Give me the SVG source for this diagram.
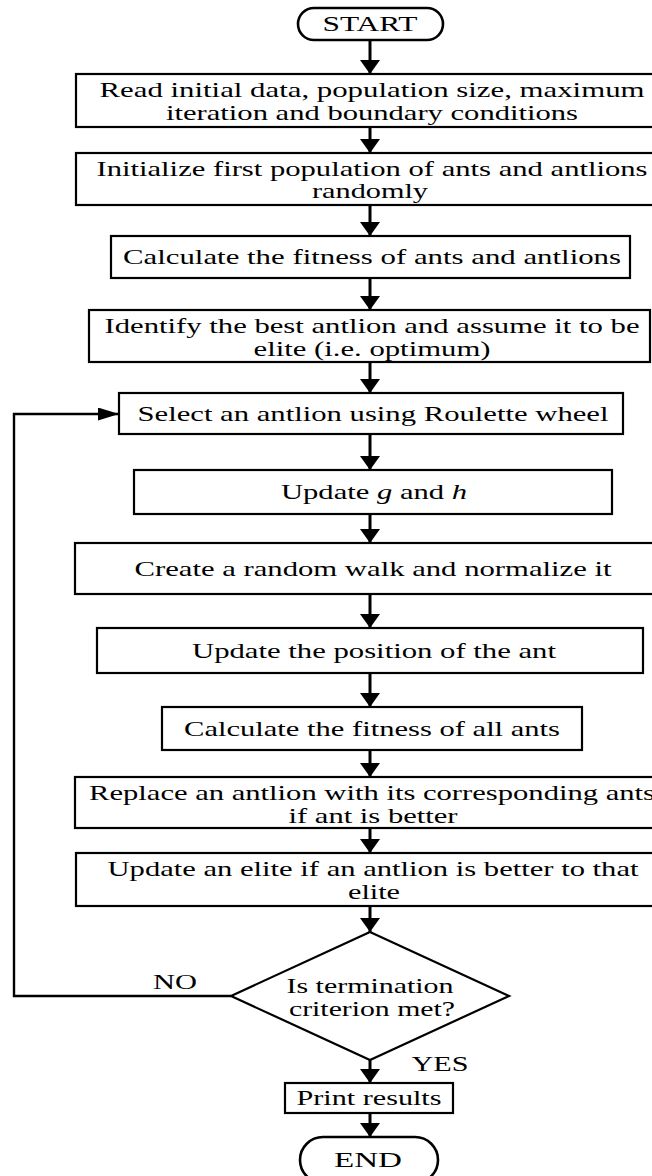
<svg xmlns="http://www.w3.org/2000/svg" width="652" height="1176" viewBox="0 0 652 1176">
  <style>
    .box{fill:#fff;stroke:#000;stroke-width:2.2}
    .term{fill:#fff;stroke:#000;stroke-width:2.6}
    .t{font-family:"Liberation Serif","Times New Roman",serif;font-size:21px;fill:#000;text-anchor:middle}
    .arr{stroke:#000;stroke-width:3;fill:none}
    .loop{stroke:#000;stroke-width:2.4;fill:none}
  </style>
  <defs>
    <marker id="ah" markerUnits="userSpaceOnUse" markerWidth="14" markerHeight="20" refX="14" refY="10" orient="auto">
      <path d="M0,0 L14,10 L0,20 Z" fill="#000"/>
    </marker>
    <marker id="ah2" markerUnits="userSpaceOnUse" markerWidth="21" markerHeight="13" refX="21" refY="6.5" orient="auto">
      <path d="M0,0 L21,6.5 L0,13 Z" fill="#000"/>
    </marker>
  </defs>
  <rect width="652" height="1176" fill="#fff"/>

  <g id="connectors">
    <line class="arr" x1="370" y1="40" x2="370" y2="74" marker-end="url(#ah)"/>
    <line class="arr" x1="370" y1="127" x2="370" y2="153" marker-end="url(#ah)"/>
    <line class="arr" x1="370" y1="205" x2="370" y2="236" marker-end="url(#ah)"/>
    <line class="arr" x1="370" y1="278" x2="370" y2="310" marker-end="url(#ah)"/>
    <line class="arr" x1="370" y1="362" x2="370" y2="393" marker-end="url(#ah)"/>
    <line class="arr" x1="370" y1="434" x2="370" y2="470" marker-end="url(#ah)"/>
    <line class="arr" x1="370" y1="514" x2="370" y2="543" marker-end="url(#ah)"/>
    <line class="arr" x1="370" y1="594" x2="370" y2="628" marker-end="url(#ah)"/>
    <line class="arr" x1="370" y1="673" x2="370" y2="707" marker-end="url(#ah)"/>
    <line class="arr" x1="370" y1="750" x2="370" y2="777" marker-end="url(#ah)"/>
    <line class="arr" x1="370" y1="828" x2="370" y2="853" marker-end="url(#ah)"/>
    <line class="arr" x1="370" y1="906" x2="370" y2="932" marker-end="url(#ah)"/>
    <line class="arr" x1="370" y1="1060" x2="370" y2="1083" marker-end="url(#ah)"/>
    <line class="arr" x1="370" y1="1113" x2="370" y2="1137" marker-end="url(#ah)"/>
    <polyline class="loop" points="231,996 14,996 14,414 119,414" marker-end="url(#ah2)"/>
    <text class="t" x="175" y="989" textLength="44" lengthAdjust="spacingAndGlyphs">NO</text>
    <text class="t" x="440" y="1071" textLength="57" lengthAdjust="spacingAndGlyphs">YES</text>
  </g>

  <g id="start">
    <rect class="term" x="298" y="8" width="145" height="32" rx="16"/>
    <text class="t" x="370" y="31" textLength="95" lengthAdjust="spacingAndGlyphs">START</text>
  </g>
  <g id="read-data">
    <rect class="box" x="76" y="74" width="600" height="53"/>
    <text class="t" x="372" y="97" textLength="545" lengthAdjust="spacingAndGlyphs">Read initial data, population size, maximum</text>
    <text class="t" x="372" y="120" textLength="412" lengthAdjust="spacingAndGlyphs">iteration and boundary conditions</text>
  </g>
  <g id="initialize">
    <rect class="box" x="76" y="153" width="600" height="52"/>
    <text class="t" x="372" y="176" textLength="551" lengthAdjust="spacingAndGlyphs">Initialize first population of ants and antlions</text>
    <text class="t" x="370" y="198" textLength="116" lengthAdjust="spacingAndGlyphs">randomly</text>
  </g>
  <g id="calc-fitness">
    <rect class="box" x="111" y="236" width="519" height="42"/>
    <text class="t" x="372" y="264" textLength="498" lengthAdjust="spacingAndGlyphs">Calculate the fitness of ants and antlions</text>
  </g>
  <g id="identify-elite">
    <rect class="box" x="89" y="310" width="561" height="52"/>
    <text class="t" x="372" y="333" textLength="535" lengthAdjust="spacingAndGlyphs">Identify the best antlion and assume it to be</text>
    <text class="t" x="372" y="356" textLength="237" lengthAdjust="spacingAndGlyphs">elite (i.e. optimum)</text>
  </g>
  <g id="select-antlion">
    <rect class="box" x="119" y="393" width="504" height="41"/>
    <text class="t" x="373" y="421" textLength="471" lengthAdjust="spacingAndGlyphs">Select an antlion using Roulette wheel</text>
  </g>
  <g id="update-gh">
    <rect class="box" x="134" y="470" width="478" height="44"/>
    <text class="t" x="374" y="499" textLength="186" lengthAdjust="spacingAndGlyphs">Update <tspan font-style="italic">g</tspan> and <tspan font-style="italic">h</tspan></text>
  </g>
  <g id="random-walk">
    <rect class="box" x="75" y="543" width="600" height="51"/>
    <text class="t" x="373" y="576" textLength="477" lengthAdjust="spacingAndGlyphs">Create a random walk and normalize it</text>
  </g>
  <g id="update-position">
    <rect class="box" x="97" y="628" width="546" height="45"/>
    <text class="t" x="374" y="658" textLength="364" lengthAdjust="spacingAndGlyphs">Update the position of the ant</text>
  </g>
  <g id="calc-fitness-all">
    <rect class="box" x="162" y="707" width="420" height="43"/>
    <text class="t" x="372" y="736" textLength="376" lengthAdjust="spacingAndGlyphs">Calculate the fitness of all ants</text>
  </g>
  <g id="replace-antlion">
    <rect class="box" x="75" y="777" width="600" height="51"/>
    <text class="t" x="372" y="800" textLength="566" lengthAdjust="spacingAndGlyphs">Replace an antlion with its corresponding ants</text>
    <text class="t" x="373" y="823" textLength="169" lengthAdjust="spacingAndGlyphs">if ant is better</text>
  </g>
  <g id="update-elite">
    <rect class="box" x="76" y="853" width="600" height="53"/>
    <text class="t" x="373" y="876" textLength="531" lengthAdjust="spacingAndGlyphs">Update an elite if an antlion is better to that</text>
    <text class="t" x="374" y="899" textLength="52" lengthAdjust="spacingAndGlyphs">elite</text>
  </g>
  <g id="termination">
    <polygon class="box" points="370,932 509,996 370,1060 231,996"/>
    <text class="t" x="370" y="993" textLength="167" lengthAdjust="spacingAndGlyphs">Is termination</text>
    <text class="t" x="372" y="1016" textLength="166" lengthAdjust="spacingAndGlyphs">criterion met?</text>
  </g>
  <g id="print-results">
    <rect class="box" x="285" y="1083" width="168" height="30"/>
    <text class="t" x="369" y="1105" textLength="145" lengthAdjust="spacingAndGlyphs">Print results</text>
  </g>
  <g id="end">
    <rect class="term" x="300" y="1137" width="138" height="46" rx="23"/>
    <text class="t" x="368" y="1167" textLength="68" lengthAdjust="spacingAndGlyphs">END</text>
  </g>
</svg>
